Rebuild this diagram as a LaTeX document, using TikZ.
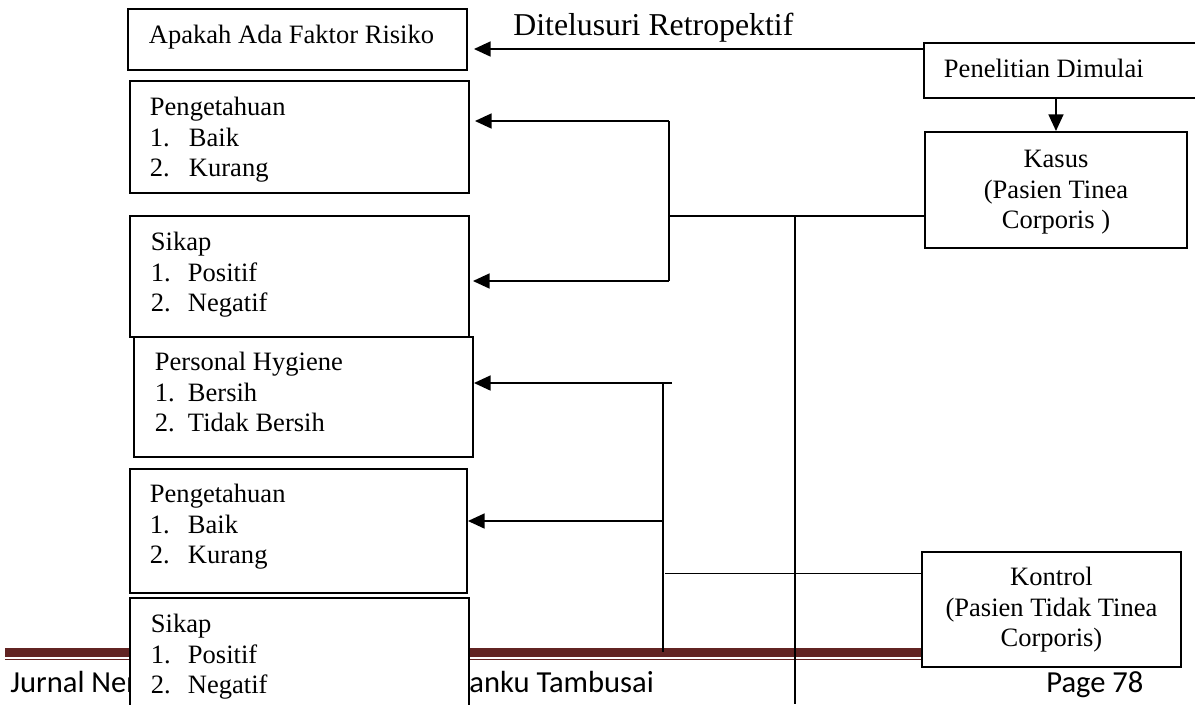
\documentclass[tikz,border=0pt]{standalone}
\usepackage{fontspec}
\setmainfont{Liberation Serif}
\newfontfamily\kakifont{Carlito}
\usetikzlibrary{arrows.meta,calc}

\newdimen\upx
\upx=0.02cm
\newcommand{\isifont}{\fontsize{15.1}{17.35}\selectfont}
\newcommand{\butir}[2]{\makebox[#1\upx][l]{#2}}
\definecolor{merahtua}{HTML}{622423}

\tikzset{
  kotak/.style={draw, line width=1.1pt, fill=white, anchor=north west, inner ysep=0pt, align=flush left, font=\isifont},
  tengah/.style={kotak, align=flush center},
  panah/.style={-{Triangle[length=9.5pt,width=8.5pt]}, line width=1.1pt},
  garis/.style={line width=1.05pt},
  kaki/.style={font=\kakifont\fontsize{17.4}{20}\selectfont, anchor=base west, inner sep=0pt},
}

\begin{document}
\begin{tikzpicture}[x=0.02cm,y=0.02cm]
\useasboundingbox (0,0) rectangle (1195,-704);
\clip (0,0) rectangle (1195,-704);

% Footer
\fill[merahtua] (5,-648) rectangle (1175,-656.5);
\draw[merahtua, line width=0.9pt] (5,-659.5) -- (1175,-659.5);
\node[kaki] (jurnal) at (10,-692) {Jurnal Ner};
\node[kaki] (tambusai) at (469,-692) {anku Tambusai};
\node[kaki] (halaman) at (1046,-692) {Page 78};

% Nodes
\node[kotak, inner xsep=21\upx, text width=297\upx, text height=35\upx, text depth=26\upx] (apakah) at (127,-8) {Apakah Ada Faktor Risiko};
\node[font=\fontsize{18.1}{21}\selectfont, anchor=base west, inner sep=0pt] (telusur) at (513,-35) {Ditelusuri Retropektif};
\node[kotak, inner xsep=20\upx, text width=252\upx, text height=35\upx, text depth=20\upx] (mulai) at (923,-42) {Penelitian Dimulai};
\node[tengah, inner xsep=10\upx, text width=242\upx, text height=36\upx, text depth=80\upx] (kasus) at (924,-131) {Kasus\\(Pasien Tinea\\Corporis )};

\node[kotak, inner xsep=20\upx, text width=299\upx, text height=35\upx, text depth=77\upx] (peng1) at (129,-80) {Pengetahuan\\\butir{39}{1.}Baik\\\butir{39}{2.}Kurang};
\node[kotak, inner xsep=21\upx, text width=297\upx, text height=35\upx, text depth=86\upx] (sikap1) at (129,-215) {Sikap\\\butir{37}{1.}Positif\\\butir{37}{2.}Negatif};
\node[kotak, inner xsep=21\upx, text width=297\upx, text height=34\upx, text depth=86\upx] (hygiene) at (133,-336) {Personal Hygiene\\\butir{33}{1.}Bersih\\\butir{33}{2.}Tidak Bersih};
\node[kotak, inner xsep=20\upx, text width=297\upx, text height=34\upx, text depth=90\upx] (peng2) at (129,-468) {Pengetahuan\\\butir{38}{1.}Baik\\\butir{38}{2.}Kurang};
\node[kotak, inner xsep=21\upx, text width=297\upx, text height=35\upx, text depth=88\upx] (sikap2) at (129,-597) {Sikap\\\butir{37}{1.}Positif\\\butir{37}{2.}Negatif};

\node[tengah, inner xsep=10\upx, text width=239\upx, text height=34\upx, text depth=81\upx] (kontrol) at (921,-551) {Kontrol\\(Pasien Tidak Tinea\\Corporis)};

% Connectors
\coordinate (t0) at ([yshift=-7\upx]mulai.north west);
\draw[panah, shorten >=6\upx] (t0) -- (t0 -| apakah.east);
\draw[panah] (mulai.south -| kasus.north) -- (kasus.north);

% kasus
\coordinate (kIn) at ([yshift=-26\upx]kasus.west);
\coordinate (k1) at (669,-121);
\coordinate (k2) at (669,-281);
\coordinate (cabang) at (795,-215);
\coordinate (ujung) at (795,-704);
\draw[garis] (k1) -- (k2);
\draw[panah, shorten >=5\upx] (k1) -- (k1 -| peng1.east);
\draw[panah, shorten >=3\upx] (k2) -- (k2 -| sikap1.east);
\draw[garis] (kIn) -- (kIn -| k1);
\draw[garis] (cabang) -- (ujung);

% kontrol
\coordinate (kkIn) at ([yshift=36\upx]kontrol.west);
\coordinate (m1) at (672,-383);
\coordinate (m2) at (663,-383);
\coordinate (m3) at (663,-652);
\coordinate (m4) at (663,-521);
\coordinate (m5) at (665,-572);
\draw[garis] (m2) -- (m3);
\draw[panah] (m1) -- (m1 -| hygiene.east);
\draw[panah] (m4) -- (m4 -| peng2.east);
\draw[garis] (kkIn) -- (kkIn -| m5);

\end{tikzpicture}
\end{document}
